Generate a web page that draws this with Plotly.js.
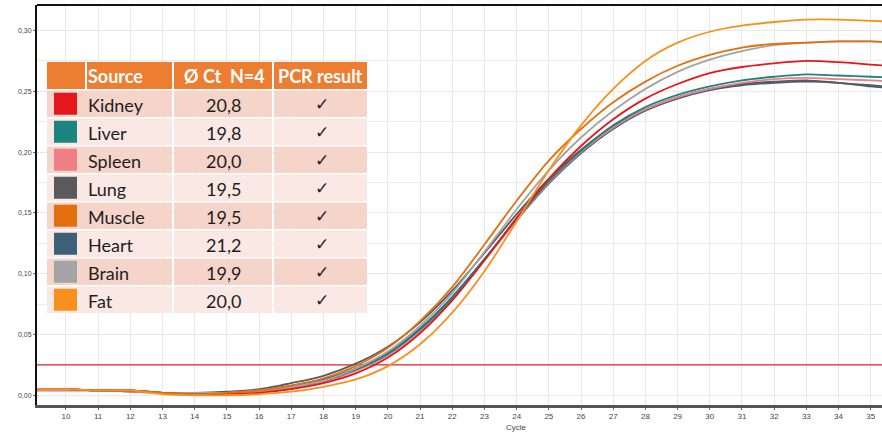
<!DOCTYPE html>
<html>
<head>
<meta charset="utf-8">
<script src="https://cdn.plot.ly/plotly-3.0.1.min.js"></script>
<style>html,body{margin:0;padding:0;background:#fff}#chart{width:882px;height:432px}</style>
</head>
<body>
<div id="chart"></div>
<script>
// ---- data ----
var cycles = [9,10,11,12,13,14,15,16,17,18,19,20,21,22,23,24,25,26,27,28,29,30,31,32,33,34,35,36];
var kidney = [0.005,0.005,0.004,0.004,0.002,0.001,0.001,0.002,0.005,0.010,0.018,0.031,0.051,0.078,0.111,0.146,0.178,0.205,0.227,0.244,0.256,0.265,0.270,0.273,0.275,0.274,0.272,0.270];
var liver  = [0.005,0.005,0.004,0.004,0.002,0.002,0.002,0.004,0.007,0.012,0.021,0.034,0.054,0.080,0.112,0.145,0.176,0.201,0.222,0.237,0.247,0.254,0.259,0.262,0.264,0.263,0.262,0.261];
var spleen = [0.004,0.004,0.004,0.003,0.002,0.002,0.002,0.003,0.006,0.011,0.020,0.033,0.053,0.079,0.111,0.144,0.175,0.200,0.220,0.235,0.245,0.252,0.257,0.260,0.261,0.260,0.259,0.258];
var lung   = [0.005,0.005,0.004,0.004,0.002,0.002,0.003,0.005,0.010,0.016,0.026,0.040,0.060,0.086,0.117,0.149,0.178,0.202,0.221,0.235,0.245,0.252,0.256,0.258,0.259,0.257,0.255,0.253];
var muscle = [0.005,0.005,0.004,0.004,0.002,0.001,0.002,0.004,0.008,0.014,0.024,0.039,0.061,0.089,0.124,0.160,0.193,0.219,0.241,0.258,0.271,0.280,0.286,0.289,0.290,0.291,0.291,0.290];
var heart  = [0.004,0.004,0.004,0.003,0.002,0.002,0.002,0.004,0.008,0.013,0.022,0.035,0.055,0.081,0.112,0.144,0.174,0.199,0.219,0.234,0.244,0.251,0.255,0.257,0.258,0.257,0.254,0.252];
var brain  = [0.005,0.005,0.004,0.004,0.002,0.002,0.002,0.004,0.007,0.012,0.022,0.036,0.057,0.084,0.118,0.153,0.185,0.212,0.234,0.252,0.266,0.276,0.283,0.288,0.290,0.291,0.291,0.290];
var fat    = [0.005,0.005,0.004,0.004,0.001,0.000,0.000,0.001,0.003,0.007,0.013,0.024,0.042,0.068,0.102,0.143,0.185,0.222,0.252,0.275,0.290,0.299,0.304,0.307,0.309,0.309,0.308,0.307];
var thresholdX = [9, 36];
var thresholdY = [0.025, 0.025];

var sources = ["Kidney","Liver","Spleen","Lung","Muscle","Heart","Brain","Fat"];
var ctValues = ["20,8","19,8","20,0","19,5","19,5","21,2","19,9","20,0"];
var pcrResult = ["✓","✓","✓","✓","✓","✓","✓","✓"];
var headers = ["Source","Ø Ct  N=4","PCR result"];
var colors = ["#e5161c","#1c8580","#ef7f86","#5a5a5c","#e2700f","#3d6176","#a4a4a6","#f7901e"];
var seriesData = [kidney, liver, spleen, lung, muscle, heart, brain, fat];
var drawOrder = [5,3,2,1,6,0,4,7];

// ---- traces ----
var traces = [];
traces.push({x: thresholdX, y: thresholdY, mode:'lines', line:{color:'#e0262b', width:1.2}, hoverinfo:'skip', showlegend:false});
drawOrder.forEach(function(i){
  traces.push({x: cycles, y: seriesData[i], mode:'lines', name: sources[i],
    line:{color: colors[i], width:1.8, shape:'spline', smoothing:0.8}, showlegend:false});
});

// ---- layout helpers (pixel -> paper) ----
var PL = 37, PT = 5, PW = 845, PH = 400;
function fx(px){ return (px - PL) / PW; }
function fy(py){ return 1 - (py - PT) / PH; }

var shapes = [];
var annotations = [];
// top frame line
shapes.push({type:'line', xref:'paper', yref:'paper', x0:0, x1:1, y0:1, y1:1, line:{color:'#111', width:2}, layer:'above'});

// table geometry
var colEdges = [47, 86, 173, 273, 367];
var headerTop = 62, headerBot = 89, rowH = 28;
var darkRow = '#f5d4c9', lightRow = '#fae8e4', headColor = '#ed7d31';
// header cells
for (var c = 0; c < 4; c++) {
  shapes.push({type:'rect', xref:'paper', yref:'paper', layer:'above',
    x0: fx(colEdges[c] + (c>0?1:0)), x1: fx(colEdges[c+1] - (c<3?1:0)), y0: fy(headerBot), y1: fy(headerTop),
    fillcolor: headColor, line:{width:0}});
}
var hdrFont = {family:'Lato, "Open Sans", sans-serif', size:18, color:'#ffffff', weight:'bold'};
var hdrY = fy((headerTop+headerBot)/2);
annotations.push({xref:'paper', yref:'paper', x: fx(86), y: hdrY, xanchor:'left', yanchor:'middle', text:'<b>'+headers[0]+'</b>', showarrow:false, font:hdrFont});
annotations.push({xref:'paper', yref:'paper', x: fx(224), y: hdrY, xanchor:'center', yanchor:'middle', text:'<b>'+headers[1]+'</b>', showarrow:false, font:hdrFont});
annotations.push({xref:'paper', yref:'paper', x: fx(320), y: hdrY, xanchor:'center', yanchor:'middle', text:'<b>'+headers[2]+'</b>', showarrow:false, font:hdrFont});

var bodyFont = {family:'Lato, "Open Sans", sans-serif', size:18, color:'#1e1e1e'};
for (var r = 0; r < sources.length; r++) {
  var rowTop = headerBot + 1.5 + r * rowH, rowBot = rowTop + rowH - 1.5;
  var fill = (r % 2 === 0) ? darkRow : lightRow;
  for (var c2 = 0; c2 < 4; c2++) {
    shapes.push({type:'rect', xref:'paper', yref:'paper', layer:'above',
      x0: fx(colEdges[c2] + (c2>1?1:0)), x1: fx(colEdges[c2+1] - (c2>0 && c2<3?1:0)), y0: fy(rowBot), y1: fy(rowTop),
      fillcolor: fill, line:{width:0}});
  }
  var cy = (rowTop + rowBot) / 2;
  shapes.push({type:'rect', xref:'paper', yref:'paper', layer:'above',
    x0: fx(54), x1: fx(77), y0: fy(cy + 11), y1: fy(cy - 11), fillcolor: colors[r], line:{width:0}});
  annotations.push({xref:'paper', yref:'paper', x: fx(86), y: fy(cy + 1), xanchor:'left', yanchor:'middle', text: sources[r], showarrow:false, font: bodyFont});
  annotations.push({xref:'paper', yref:'paper', x: fx(223), y: fy(cy + 1), xanchor:'center', yanchor:'middle', text: ctValues[r], showarrow:false, font: bodyFont});
  annotations.push({xref:'paper', yref:'paper', x: fx(322), y: fy(cy), xanchor:'center', yanchor:'middle', text: pcrResult[r], showarrow:false, font:{family:'DejaVu Sans, sans-serif', size:17, color:'#1e1e1e'}});
}
// axis title "Cycle"
annotations.push({xref:'x', yref:'paper', x: 24, y: fy(427), xanchor:'center', yanchor:'middle', text:'Cycle', showarrow:false, font:{family:'Liberation Sans, Arial, sans-serif', size:8, color:'#444'}});

var layout = {
  width: 882, height: 432,
  margin: {l: PL, r: 0, t: PT, b: 27},
  paper_bgcolor:'#ffffff', plot_bgcolor:'#ffffff',
  separators: ',.',
  showlegend: false,
  xaxis: {
    range: [9.1, 35.35], dtick: 1, tick0: 0,
    showgrid: true, gridcolor: '#e8e8e8', gridwidth: 1,
    zeroline: false, showline: true, linecolor: '#555', linewidth: 2.5,
    ticks: 'outside', ticklen: 2, tickcolor: '#666',
    tickfont: {family:'Liberation Sans, Arial, sans-serif', size:8, color:'#444'}
  },
  yaxis: {
    range: [-0.008, 0.321], dtick: 0.05, tick0: 0, tickformat: '.2f',
    showgrid: true, gridcolor: '#e8e8e8', gridwidth: 1,
    minor: {dtick: 0.025, showgrid: true, gridcolor: '#ececec'},
    zeroline: false, showline: true, linecolor: '#111', linewidth: 2,
    ticks: 'outside', ticklen: 2, tickcolor: '#666',
    tickfont: {family:'Liberation Sans, Arial, sans-serif', size:7, color:'#444'}
  },
  shapes: shapes,
  annotations: annotations
};

Plotly.newPlot('chart', traces, layout, {displayModeBar:false, staticPlot:true});
</script>
</body>
</html>
